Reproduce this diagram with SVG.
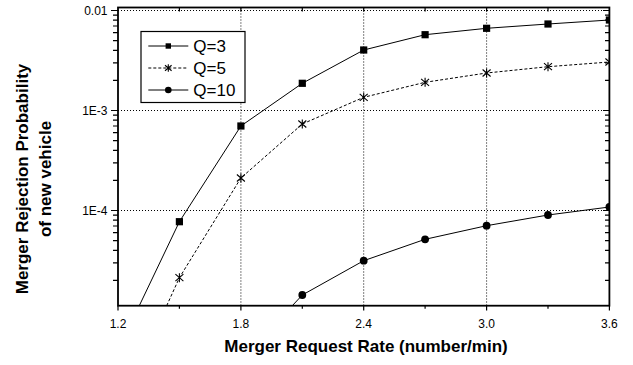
<svg xmlns="http://www.w3.org/2000/svg" width="633" height="365" viewBox="0 0 633 365">
<style>
text{font-family:"Liberation Sans",Arial,sans-serif;fill:#000}
.tick{font-size:12px}
.title{font-size:17px;font-weight:bold}
.leg{font-size:17px}
.grid{stroke:#000;stroke-width:1;stroke-dasharray:1 2;fill:none}
.ax{stroke:#000;stroke-width:1.2;fill:none}
.frame{stroke:#000;stroke-width:1.8;fill:none}
.s3{stroke:#000;stroke-width:1;fill:none}
.s5{stroke:#000;stroke-width:1;fill:none;stroke-dasharray:3 2}
.ast{stroke:#000;stroke-width:1.1;fill:none}
</style>
<defs>
<clipPath id="plot"><rect x="118" y="7.5" width="491.4" height="298.2"/></clipPath>
<symbol id="sq" overflow="visible"><rect x="-3.6" y="-3.6" width="7.2" height="7.2" fill="#000"/></symbol>
<symbol id="ci" overflow="visible"><circle r="3.9" fill="#000"/></symbol>
<symbol id="as" overflow="visible"><path class="ast" d="M0-4.5V4.5M-4-3.5L4 3.5M-4 3.5L4-3.5"/></symbol>
</defs>
<rect width="633" height="365" fill="#fff"/>

<g id="grid">
<path class="grid" d="M118 10.5H609.4M118 110.5H609.4M118 210.5H609.4M240.9 7.5V305.7M363.7 7.5V305.7M486.6 7.5V305.7"/>
</g>

<g id="ticks">
<path class="ax" d="M111 10.5H118M111 110.5H118M111 210.5H118
M113 15.1H118M113 20.2H118M113 26H118M113 32.7H118M113 40.6H118M113 50.3H118M113 62.8H118M113 80.4H118
M113 115.1H118M113 120.2H118M113 126H118M113 132.7H118M113 140.6H118M113 150.3H118M113 162.8H118M113 180.4H118
M113 215.1H118M113 220.2H118M113 226H118M113 232.7H118M113 240.6H118M113 250.3H118M113 262.8H118M113 280.4H118"/>
<path class="ax" d="M603 10.5H609.4M603 110.5H609.4M603 210.5H609.4
M605 15.1H609.4M605 20.2H609.4M605 26H609.4M605 32.7H609.4M605 40.6H609.4M605 50.3H609.4M605 62.8H609.4M605 80.4H609.4
M605 115.1H609.4M605 120.2H609.4M605 126H609.4M605 132.7H609.4M605 140.6H609.4M605 150.3H609.4M605 162.8H609.4M605 180.4H609.4
M605 215.1H609.4M605 220.2H609.4M605 226H609.4M605 232.7H609.4M605 240.6H609.4M605 250.3H609.4M605 262.8H609.4M605 280.4H609.4"/>
<path class="ax" d="M179.4 7.5V11.5M240.9 7.5V11.5M302.3 7.5V11.5M363.7 7.5V11.5M425.1 7.5V11.5M486.6 7.5V11.5M548 7.5V11.5"/>
<path class="ax" d="M118 305.7V310.5M240.9 305.7V310.5M363.7 305.7V310.5M486.6 305.7V310.5M609.4 305.7V310.5M179.4 305.7V308.7M302.3 305.7V308.7M425.1 305.7V308.7M548 305.7V308.7"/>
</g>

<g id="connectors" clip-path="url(#plot)">
<polyline id="line-q3" class="s3" points="139.3,305.7 179.4,221.7 240.9,126 302.3,83.3 363.7,50 425.1,34.7 486.6,28.3 548,24 609.4,20"/>
<polyline id="line-q5" class="s5" points="166.7,305.7 179.4,277.7 240.9,178 302.3,124 363.7,97.3 425.1,82.3 486.6,73 548,66.7 609.4,62"/>
<polyline id="line-q10" class="s3" points="292.3,305.7 302.3,295 363.7,260.7 425.1,239.3 486.6,225.7 548,215 609.4,207"/>
</g>

<g id="series-q3" clip-path="url(#plot)">
<use href="#sq" x="179.4" y="221.7"/><use href="#sq" x="240.9" y="126"/><use href="#sq" x="302.3" y="83.3"/><use href="#sq" x="363.7" y="50"/><use href="#sq" x="425.1" y="34.7"/><use href="#sq" x="486.6" y="28.3"/><use href="#sq" x="548" y="24"/><use href="#sq" x="609.4" y="20"/>
</g>
<g id="series-q5" clip-path="url(#plot)">
<use href="#as" x="179.4" y="277.7"/><use href="#as" x="240.9" y="178"/><use href="#as" x="302.3" y="124"/><use href="#as" x="363.7" y="97.3"/><use href="#as" x="425.1" y="82.3"/><use href="#as" x="486.6" y="73"/><use href="#as" x="548" y="66.7"/><use href="#as" x="609.4" y="62"/>
</g>
<g id="series-q10" clip-path="url(#plot)">
<use href="#ci" x="302.3" y="295"/><use href="#ci" x="363.7" y="260.7"/><use href="#ci" x="425.1" y="239.3"/><use href="#ci" x="486.6" y="225.7"/><use href="#ci" x="548" y="215"/><use href="#ci" x="609.4" y="207"/>
</g>

<g id="frame">
<rect class="frame" x="118" y="7.5" width="491.4" height="298.2"/>
</g>

<g id="y-labels" class="tick" text-anchor="end">
<text x="107.5" y="15">0.01</text>
<text x="107.5" y="115">1E-3</text>
<text x="107.5" y="215">1E-4</text>
</g>
<g id="x-labels" class="tick" text-anchor="middle">
<text x="118" y="328">1.2</text>
<text x="240.9" y="328">1.8</text>
<text x="363.7" y="328">2.4</text>
<text x="486.6" y="328">3.0</text>
<text x="609.4" y="328">3.6</text>
</g>

<g id="x-title"><text class="title" x="366" y="352" text-anchor="middle">Merger Request Rate (number/min)</text></g>
<g id="y-title" class="title" text-anchor="middle">
<text transform="translate(28 179) rotate(-90)">Merger Rejection Probability</text>
<text transform="translate(51 179) rotate(-90)">of new vehicle</text>
</g>

<g id="legend">
<rect x="141" y="31.5" width="104" height="71" fill="#fff" stroke="#000" stroke-width="1.2"/>
<g id="legend-q3"><path class="s3" d="M148.3 46H188.3"/><rect x="165.6" y="43.3" width="5.4" height="5.4" fill="#000"/><text class="leg" x="193.3" y="52">Q=3</text></g>
<g id="legend-q5"><path class="s5" d="M148.3 68H188.3"/><path class="ast" d="M168.3 64.3V71.7M165 65.3L171.6 70.7M165 70.7L171.6 65.3"/><text class="leg" x="193.3" y="74">Q=5</text></g>
<g id="legend-q10"><path class="s3" d="M148.3 90H188.3"/><circle cx="168.3" cy="90" r="3.3" fill="#000"/><text class="leg" x="193.3" y="96">Q=10</text></g>
</g>
</svg>
